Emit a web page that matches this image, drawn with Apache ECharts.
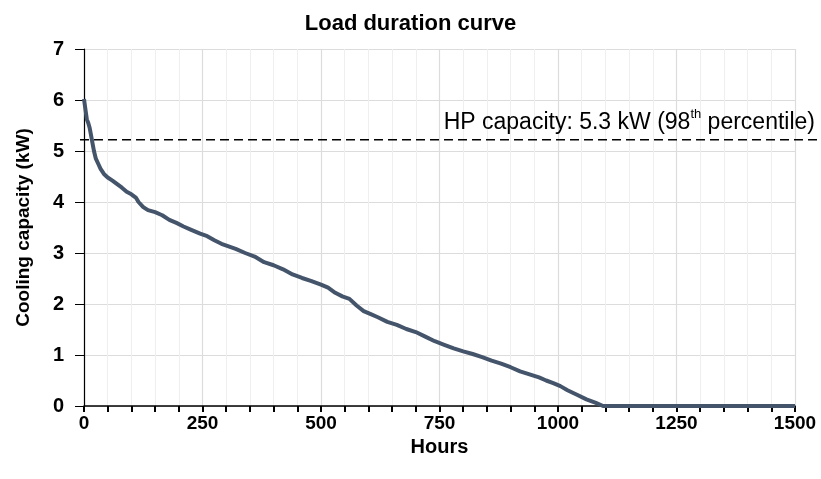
<!DOCTYPE html>
<html>
<head>
<meta charset="utf-8">
<script src="https://cdn.jsdelivr.net/npm/echarts@6/dist/echarts.min.js"></script>
<style>html,body{margin:0;padding:0;background:#fff}#c{width:821px;height:479px}</style>
</head>
<body>
<div id="c"></div>
<script>
const hours = [0,2,4,6,9,12,15,18,21,25,30,35,42,50,60,70,80,90,100,110,115,125,135,150,165,180,195,210,225,245,260,275,290,305,320,340,360,380,400,420,440,460,480,500,515,530,545,560,575,590,605,620,640,660,680,700,720,740,760,780,800,820,840,860,880,900,920,940,960,975,990,1005,1020,1040,1060,1080,1095,1500];
const capacity = [6.02,6.0,5.75,5.62,5.55,5.45,5.3,5.15,5.0,4.85,4.75,4.65,4.55,4.48,4.42,4.35,4.28,4.2,4.15,4.08,4.0,3.9,3.84,3.8,3.74,3.65,3.59,3.52,3.46,3.38,3.33,3.25,3.18,3.13,3.08,3.0,2.93,2.82,2.76,2.68,2.58,2.51,2.45,2.38,2.32,2.22,2.15,2.1,1.97,1.86,1.8,1.74,1.65,1.59,1.51,1.45,1.36,1.27,1.2,1.13,1.07,1.02,0.96,0.89,0.83,0.76,0.68,0.62,0.56,0.5,0.45,0.39,0.31,0.22,0.13,0.06,0.0,0.0];
const hpLineHours = [-8, 1549];
const hpLineValue = [5.22, 5.22];
const xTicks = { min: 0, max: 1500, interval: 250 };
const yTicks = { min: 0, max: 7, interval: 1 };
const titleText = 'Load duration curve';
const xName = 'Hours';
const yName = 'Cooling capacity (kW)';
const hpLabel = ['HP capacity: 5.3 kW (98', 'th', ' percentile)'];

const boldFont = "'Liberation Sans', Arial, sans-serif";
const chart = echarts.init(document.getElementById('c'));
chart.setOption({
  animation: false,
  backgroundColor: '#fff',
  title: {
    text: titleText, left: 'center', top: 8,
    textStyle: { fontFamily: boldFont, fontWeight: 'bold', fontSize: 22, color: '#000' }
  },
  grid: [
    { left: 84, right: 26, top: 49, bottom: 73 },
    { left: 80, right: 3, top: 49, bottom: 73 }
  ],
  xAxis: [{
    type: 'value', min: xTicks.min, max: xTicks.max, interval: xTicks.interval,
    name: xName, nameLocation: 'middle', nameGap: 29,
    nameTextStyle: { fontFamily: boldFont, fontWeight: 'bold', fontSize: 20, color: '#000' },
    axisLine: { show: true, onZero: false, lineStyle: { color: '#000', width: 1.5 } },
    axisTick: { show: true, length: 6, lineStyle: { color: '#000', width: 2 } },
    minorTick: { show: true, splitNumber: 5, length: 6, lineStyle: { color: '#000', width: 2 } },
    axisLabel: { margin: 8, fontFamily: boldFont, fontWeight: 'bold', fontSize: 19, color: '#000', formatter: v => String(v) },
    splitLine: { show: true, lineStyle: { color: '#dcdcdc', width: 1.2 } },
    minorSplitLine: { show: true, lineStyle: { color: '#efefef', width: 1 } }
  }, {
    type: 'value', gridIndex: 1, min: hpLineHours[0], max: hpLineHours[1], show: false
  }],
  yAxis: [{
    type: 'value', min: yTicks.min, max: yTicks.max, interval: yTicks.interval,
    name: yName, nameLocation: 'middle', nameGap: 51,
    nameTextStyle: { fontFamily: boldFont, fontWeight: 'bold', fontSize: 19, color: '#000' },
    axisLine: { show: true, lineStyle: { color: '#000', width: 1.2 } },
    axisTick: { show: true, length: 9, lineStyle: { color: '#000', width: 1 } },
    axisLabel: { margin: 20, fontFamily: boldFont, fontWeight: 'bold', fontSize: 20, color: '#000' },
    splitLine: { show: true, lineStyle: { color: '#dcdcdc', width: 1.2 } }
  }, {
    type: 'value', gridIndex: 1, min: yTicks.min, max: yTicks.max, show: false
  }],
  series: [
    {
      type: 'line', name: 'load', showSymbol: false, symbol: 'none', z: 3,
      data: hours.map((h, i) => [h, capacity[i]]),
      lineStyle: { color: '#44546a', width: 4 }
    },
    {
      type: 'line', name: 'hp', xAxisIndex: 1, yAxisIndex: 1, showSymbol: false, symbol: 'none', z: 4,
      data: hpLineHours.map((h, i) => [h, hpLineValue[i]]),
      lineStyle: { color: '#000', width: 1.5, type: [9, 5] },
      endLabel: {
        show: true, align: 'right', verticalAlign: 'bottom', distance: 0, offset: [-3, -6],
        formatter: '{a|' + hpLabel[0] + '}{s|' + hpLabel[1] + '}{a|' + hpLabel[2] + '}',
        rich: {
          a: { fontFamily: "'Liberation Sans', Arial, sans-serif", fontSize: 23, color: '#000', lineHeight: 26, verticalAlign: 'bottom' },
          s: { fontFamily: "'Liberation Sans', Arial, sans-serif", fontSize: 13, color: '#000', lineHeight: 26, verticalAlign: 'top' }
        }
      }
    }
  ]
});
</script>
</body>
</html>
